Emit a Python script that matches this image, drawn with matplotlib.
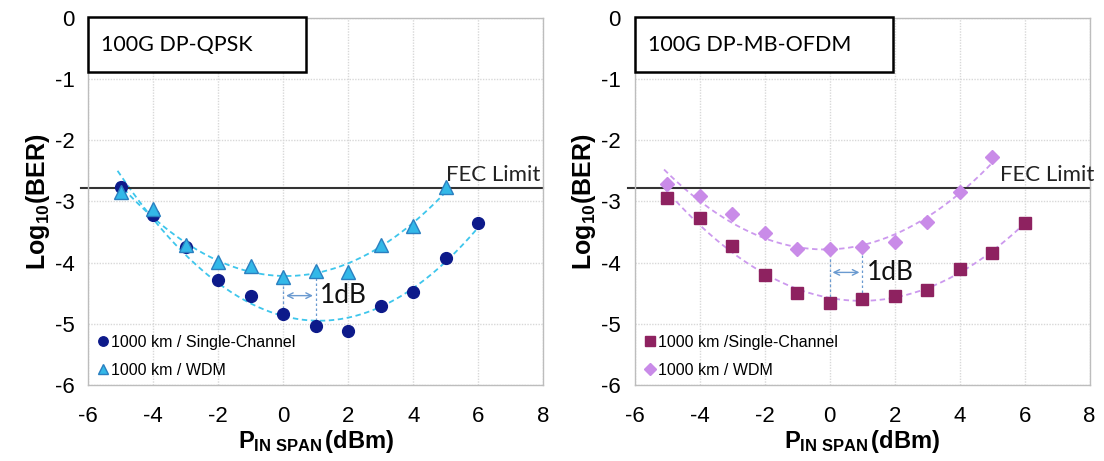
import numpy as np
import matplotlib
matplotlib.use("Agg")
import matplotlib.pyplot as plt

plt.rcParams['font.family'] = ['Liberation Sans', 'DejaVu Sans']
plt.rcParams['axes.unicode_minus'] = False
plt.rcParams['mathtext.fontset'] = 'custom'
plt.rcParams['mathtext.rm'] = 'Liberation Sans'
plt.rcParams['mathtext.bf'] = 'Liberation Sans:bold'
plt.rcParams['mathtext.it'] = 'Liberation Sans:italic'

# ---- data ----
x_power = [-5, -4, -3, -2, -1, 0, 1, 2, 3, 4, 5, 6]
qpsk_single = [-2.77, -3.22, -3.74, -4.28, -4.54, -4.84, -5.04, -5.12, -4.71, -4.48, -3.92, -3.36]
x_power_wdm = [-5, -4, -3, -2, -1, 0, 1, 2, 3, 4, 5]
qpsk_wdm = [-2.85, -3.12, -3.72, -3.99, -4.05, -4.24, -4.13, -4.15, -3.72, -3.40, -2.77]

ofdm_single = [-2.95, -3.27, -3.73, -4.21, -4.49, -4.66, -4.59, -4.55, -4.45, -4.10, -3.84, -3.36]
ofdm_wdm = [-2.71, -2.91, -3.20, -3.51, -3.78, -3.78, -3.74, -3.66, -3.34, -2.85, -2.27]

fec_limit = -2.78
titles = ["100G DP-QPSK", "100G DP-MB-OFDM"]
legend_single = ["1000 km / Single-Channel", "1000 km /Single-Channel"]
legend_wdm = "1000 km / WDM"
x_ticks = [-6, -4, -2, 0, 2, 4, 6, 8]
y_ticks = [0, -1, -2, -3, -4, -5, -6]

fig = plt.figure(figsize=(11.04, 4.61), dpi=100)
ax1 = fig.add_axes([0.080, 0.165, 0.412, 0.796])
ax2 = fig.add_axes([0.575, 0.165, 0.412, 0.796])

narrow = ['Liberation Sans Narrow', 'Liberation Sans', 'DejaVu Sans']
cal = ['Lato', 'DejaVu Sans']

def fit_curve(ax, xs, ys, color, x0, x1):
    c = np.polyfit(xs, ys, 2)
    xx = np.linspace(x0, x1, 200)
    ax.plot(xx, np.polyval(c, xx), ls=(0, (3, 2)), color=color, lw=1.3, zorder=2)
    return c

panels = [
    (ax1, qpsk_single, qpsk_wdm, dict(marker='o', color='#0d1a8a', ms=8.5, mec='#0d1a8a'),
     dict(marker='^', color='#33b8e8', ms=9.5, mec='#2a7fc0'), '#3ec6ec', '#3ec6ec',
     titles[0], legend_single[0], 0.71, -4.54, 1.12, 5.0),
    (ax2, ofdm_single, ofdm_wdm, dict(marker='s', color='#8e2260', ms=8.5, mec='#8e2260'),
     dict(marker='D', color='#c98be8', ms=7.5, mec='#c98be8'), '#cc99ee', '#cc99ee',
     titles[1], legend_single[1], 1.95, -4.16, 1.15, 5.23),
]

for (ax, ys_s, ys_w, ms_s, ms_w, col_s, col_w, title, lab_s, box_r, arrow_y, txt_x, fec_x) in panels:
    ax.set_xlim(-6, 8)
    ax.set_ylim(-6, 0)
    ax.set_xticks(x_ticks)
    ax.set_yticks(y_ticks)
    ax.tick_params(axis='both', labelsize=16, length=0)
    ax.tick_params(axis='x', pad=15)
    ax.tick_params(axis='y', pad=10)
    ax.grid(True, color='#d8d8d8', lw=1.0, ls=(0, (1, 1)))
    ax.set_axisbelow(True)
    for s in ax.spines.values():
        s.set_color('#bdbdbd')
        s.set_linewidth(1.0)

    cs = fit_curve(ax, x_power, ys_s, col_s, -5.1, 6.0)
    cw = fit_curve(ax, x_power_wdm, ys_w, col_w, -5.1, 5.0)

    ax.plot(x_power, ys_s, ls='none', label=lab_s, zorder=3, **ms_s)
    ax.plot(x_power_wdm, ys_w, ls='none', label=legend_wdm, zorder=3, **ms_w)

    ax.axhline(fec_limit, color='#333333', lw=1.5, zorder=2, xmin=-0.015, clip_on=False)
    ax.text(fec_x, fec_limit + 0.05, "FEC Limit", fontsize=16, family=cal,
            ha='left', va='bottom', color='#222222', clip_on=False)

    # 1dB annotation
    for xv in (0, 1):
        ax.plot([xv, xv], [np.polyval(cw, xv), np.polyval(cs, xv)], ls=(0, (2, 2)),
                color='#6a9ad0', lw=0.9, zorder=2)
    ax.annotate('', xy=(1, arrow_y), xytext=(0, arrow_y),
                arrowprops=dict(arrowstyle='<->', color='#6a9ad0', lw=1.0))
    ax.text(txt_x, arrow_y, "1dB", fontsize=19, family=cal, va='center', ha='left', color='#111111')

    # title box
    ax.add_patch(plt.Rectangle((-6, -0.88), box_r + 6, 0.9, fill=True, facecolor='white',
                               edgecolor='black', lw=1.8, zorder=4, clip_on=False))
    ax.text(-5.6, -0.44, title, fontsize=15.5, family=cal, va='center', ha='left', zorder=5)

    leg = ax.legend(loc='lower left', frameon=False, prop=dict(family=narrow, size=11.5),
                    handletextpad=0.0, handlelength=1.0, borderaxespad=0.05, labelspacing=0.8,
                    markerscale=0.8)

    ax.set_ylabel(r'$\mathbf{Log_{10}(BER)}$', fontsize=18, labelpad=2)
    ax.set_xlabel(r'$\mathbf{P_{IN\ SPAN}\,(dBm)}$', fontsize=17, labelpad=1)

fig.savefig("out.png", dpi=100)
